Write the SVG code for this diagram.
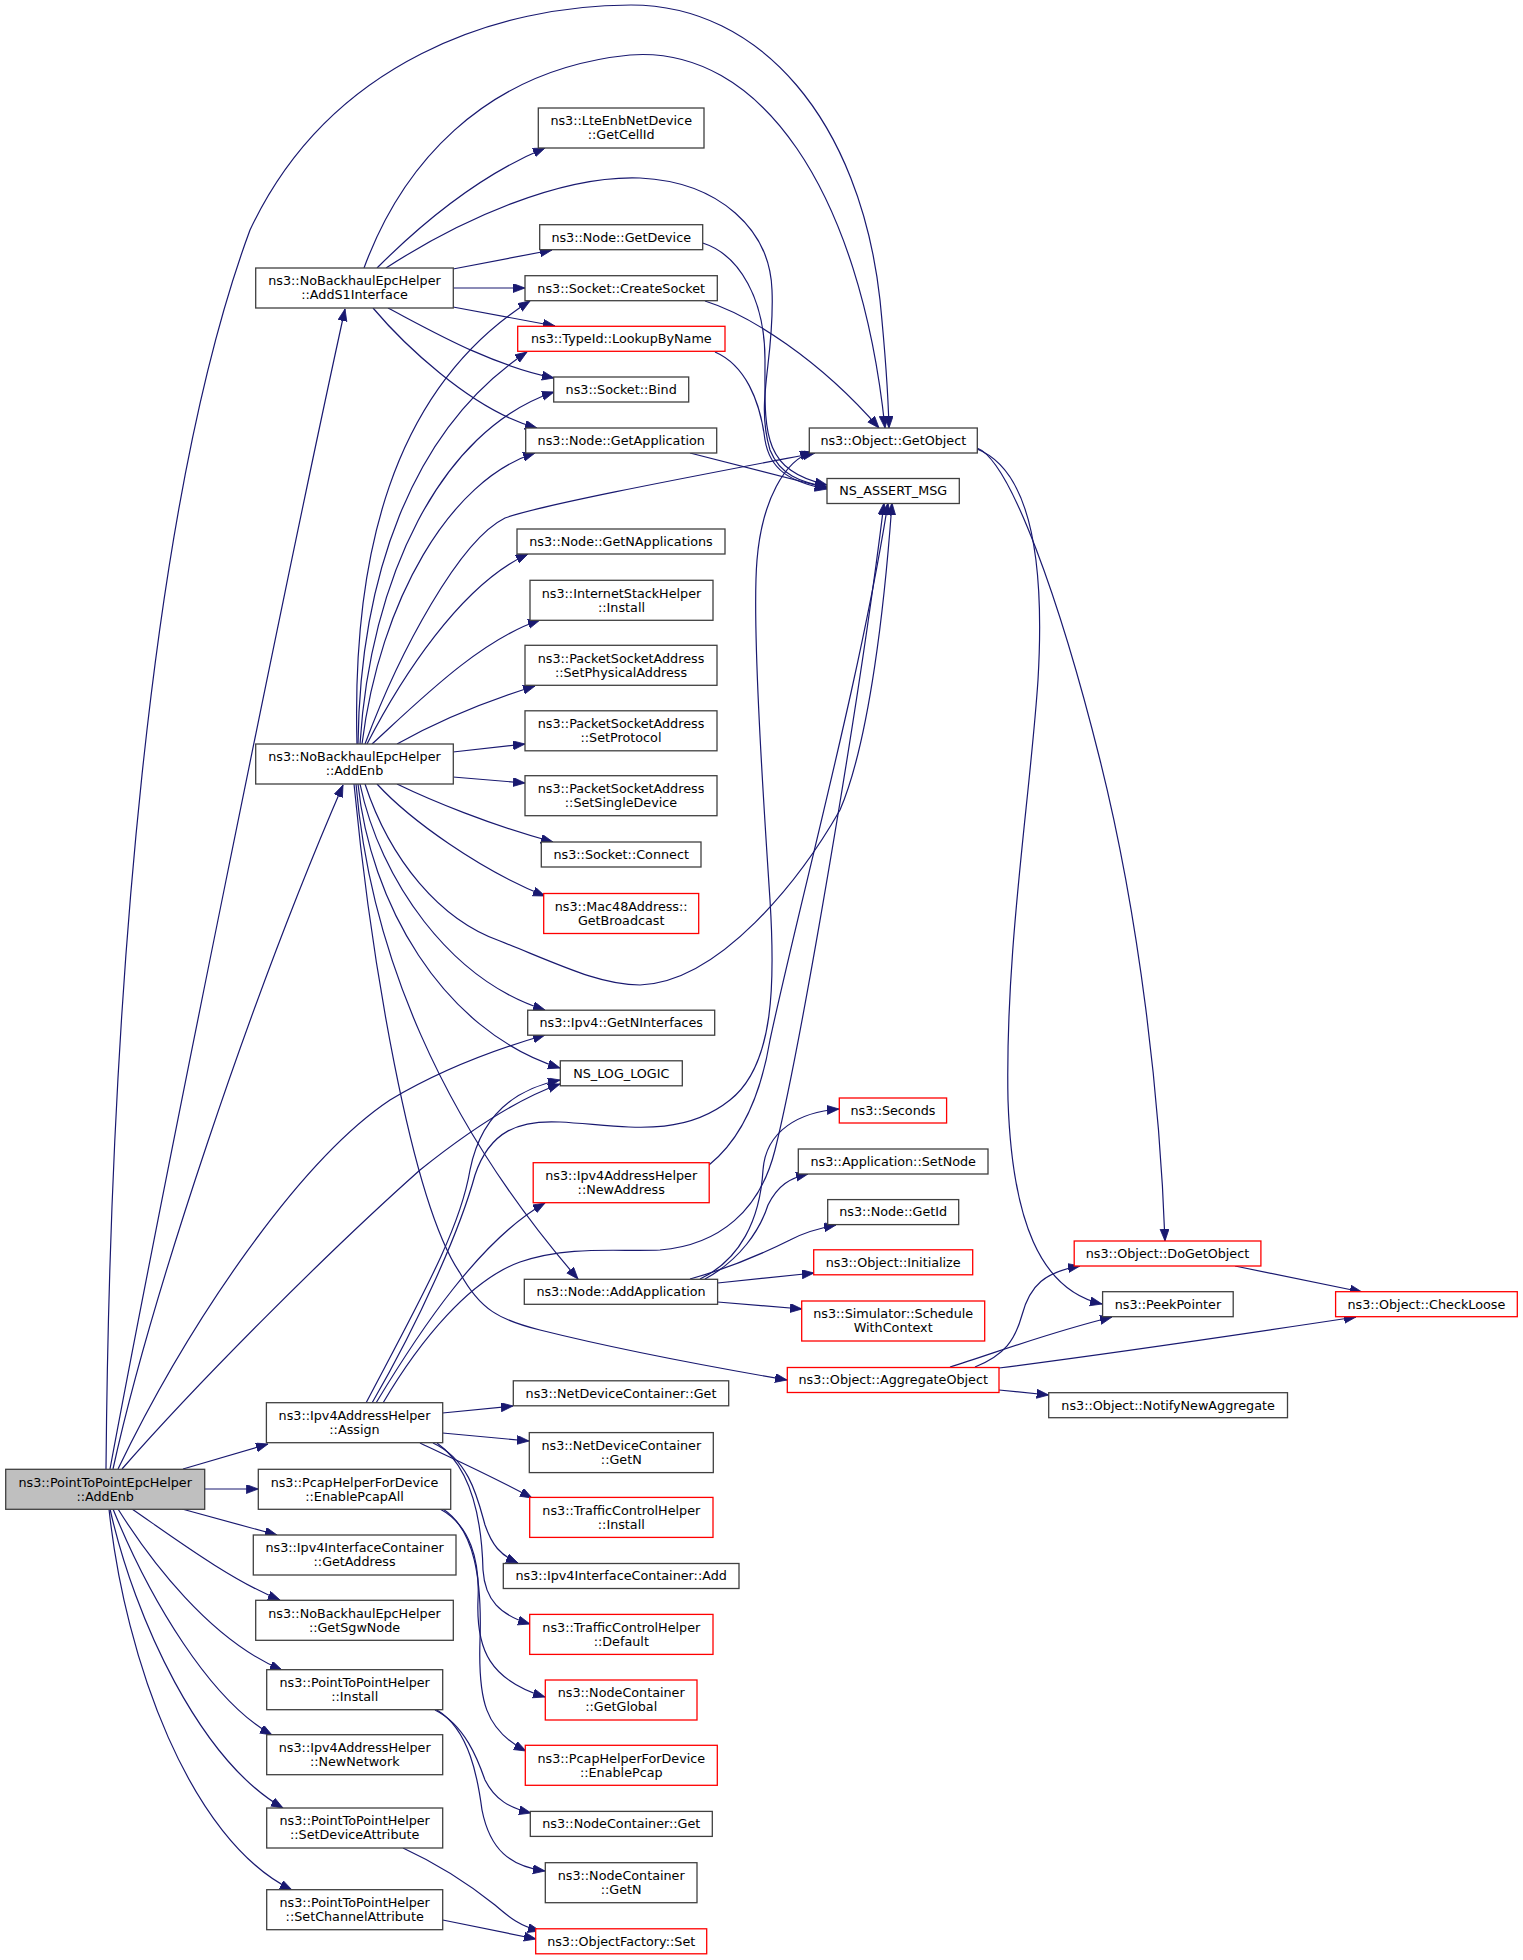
<svg xmlns="http://www.w3.org/2000/svg" width="1523" height="1960" viewBox="0 0 1523 1960">
<style>
.bg{fill:#ffffff}
.n rect{fill:#ffffff;stroke:#404040;stroke-width:1.3}
.n.r rect{stroke:#ff0000}
.n.root rect{fill:#bfbfbf}
.n text{font-family:"DejaVu Sans","Liberation Sans",sans-serif;font-size:12.75px;fill:#000000;text-anchor:middle}
.e path{fill:none;stroke:#191970;stroke-width:1.2;marker-end:url(#a)}
</style>
<defs>
<marker id="a" markerUnits="userSpaceOnUse" markerWidth="14" markerHeight="10" refX="12" refY="4.5" orient="auto">
<path d="M0,0 L12,4.5 L0,9 z" fill="#191970" stroke="#191970" stroke-width="0.8"/>
</marker>
</defs>
<rect class="bg" x="0" y="0" width="1523" height="1960"/>
<g id="edges" class="e">
<!-- root -->
<path d="M106,1469 C110,1000 150,500 250,230 C330,60 500,5 631,5 C760,5 860,120 880,300 C885,350 888,390 889,428"/>
<path d="M110,1469 C160,1200 290,560 345,309"/>
<path d="M113,1469 C150,1300 250,1000 343,785"/>
<path d="M118,1469 C190,1320 300,1160 390,1100 C440,1070 500,1048 545,1035"/>
<path d="M122,1469 C200,1380 330,1250 420,1170 C470,1130 520,1098 560,1084"/>
<path d="M183,1469 L268,1444"/>
<path d="M204.7,1489 L258.3,1489"/>
<path d="M182,1509 L277,1535"/>
<path d="M132,1509 C170,1535 230,1580 280,1600"/>
<path d="M118,1509 C150,1560 210,1640 282,1670"/>
<path d="M113,1509 C150,1600 210,1700 272,1735"/>
<path d="M110,1509 C135,1620 200,1760 283,1808"/>
<path d="M109,1509 C125,1660 190,1840 292,1890"/>
<!-- AddS1Interface -->
<path d="M364,268 C400,170 480,70 630,55 C760,45 860,190 885,428"/>
<path d="M377,268 C420,225 480,175 545,148"/>
<path d="M386,268 C460,220 560,175 640,178 C720,182 770,230 772,290 C775,360 755,400 770,450 C780,475 800,482 827,487"/>
<path d="M453,269 L552,250"/>
<path d="M453.3,288 L525,288"/>
<path d="M453,307 L555,326"/>
<path d="M388,308 C430,330 490,365 554,378"/>
<path d="M373,308 C400,340 470,410 537,428"/>
<!-- AddEnb -->
<path d="M357,744 C352,560 390,390 530,301"/>
<path d="M358,744 C360,580 410,430 527,352"/>
<path d="M360,744 C370,580 440,430 554,392"/>
<path d="M362,744 C380,600 450,480 535,453"/>
<path d="M365,744 C400,650 460,540 505,518 C540,505 700,475 815,453"/>
<path d="M367,744 C400,680 460,585 528,554"/>
<path d="M372,744 C420,700 480,640 540,620"/>
<path d="M397,744 C440,720 490,700 535,686"/>
<path d="M453,752 L525,744"/>
<path d="M453,777 L525,783"/>
<path d="M397,784 C430,800 490,825 553,842"/>
<path d="M377,784 C410,820 480,870 545,896"/>
<path d="M365,784 C390,860 440,920 500,941 C560,965 600,985 640,985 C720,982 800,880 840,810 C870,740 885,600 892,503"/>
<path d="M360,784 C380,880 450,980 545,1010"/>
<path d="M358,784 C370,900 440,1030 560,1068"/>
<path d="M356,784 C370,950 440,1120 578,1279"/>
<path d="M354,784 C370,950 410,1200 460,1273 C480,1310 500,1320 540,1330 C620,1350 700,1365 787,1380"/>
<!-- Assign -->
<path d="M366,1403 C420,1300 460,1230 470,1170 C480,1120 510,1090 560,1080"/>
<path d="M372,1403 C420,1320 460,1230 475,1175 C490,1130 520,1120 560,1122 C620,1125 680,1140 730,1100 C775,1065 775,980 770,900 C762,780 752,620 757,560 C762,500 785,460 812,452"/>
<path d="M376,1403 C420,1330 480,1240 545,1203"/>
<path d="M383,1403 C420,1340 470,1280 520,1262 C570,1245 620,1252 660,1250 C720,1245 760,1210 775,1150 C800,1050 860,700 884,503"/>
<path d="M442.5,1413 L513,1406"/>
<path d="M442.5,1433 L529,1441"/>
<path d="M420,1443 C445,1455 490,1475 532,1498"/>
<path d="M433,1443 C470,1460 478,1500 485,1525 C492,1545 500,1555 518,1563"/>
<path d="M437,1443 C475,1470 482,1530 483,1570 C485,1600 500,1615 530,1624"/>
<!-- NewAddress -->
<path d="M709,1165 C740,1140 760,1100 770,1040 C800,900 860,680 888,503"/>
<!-- EnablePcapAll -->
<path d="M440,1509 C470,1525 480,1560 478,1600 C476,1650 490,1680 545,1697"/>
<path d="M443,1509 C475,1530 482,1580 480,1640 C478,1700 485,1730 526,1751"/>
<!-- P2P Install -->
<path d="M435,1710 C465,1725 478,1760 485,1780 C495,1800 510,1808 531,1813"/>
<path d="M437,1710 C470,1730 478,1780 482,1810 C490,1850 510,1866 545,1871"/>
<!-- Set*Attribute -->
<path d="M403,1848 C440,1865 470,1885 495,1905 C510,1918 520,1926 540,1931"/>
<path d="M442.7,1920 L536,1939"/>
<!-- AddApplication -->
<path d="M700,1279 C740,1260 760,1220 763,1170 C766,1130 800,1112 839,1109"/>
<path d="M705,1279 C740,1260 760,1230 768,1205 C778,1185 790,1178 808,1174"/>
<path d="M690,1279 C730,1268 760,1255 790,1240 C805,1232 820,1228 836,1225"/>
<path d="M717.6,1283 L814,1273"/>
<path d="M717.6,1302 L802,1309"/>
<!-- AggregateObject -->
<path d="M975,1367 C1005,1355 1015,1340 1022,1315 C1030,1285 1045,1272 1080,1266"/>
<path d="M950,1367 C990,1355 1040,1335 1112,1317"/>
<path d="M999,1368 C1100,1355 1250,1333 1356,1317"/>
<path d="M999,1390 L1048.7,1395"/>
<!-- DoGetObject -->
<path d="M1235,1266 L1362,1292"/>
<!-- GetObject -->
<path d="M977,448 C1010,460 1060,600 1100,760 C1140,920 1160,1100 1165,1241"/>
<path d="M977,449 C1030,470 1045,560 1038,680 C1030,800 1005,950 1008,1100 C1012,1220 1040,1290 1102,1304"/>
<!-- misc -->
<path d="M705,301 C750,315 820,360 879,428"/>
<path d="M702.7,243 C740,255 765,300 765,360 C765,430 760,470 827,485"/>
<path d="M715,352 C745,365 760,400 765,440 C770,470 790,482 827,489"/>
<path d="M690,453 L827,488"/>
</g>
<g id="n_root" class="n root"><rect x="5.7" y="1469.3" width="199" height="40"/><text x="105.2" y="1486.5">ns3::PointToPointEpcHelper</text><text x="105.2" y="1500.5">::AddEnb</text></g>
<g id="n_adds1" class="n"><rect x="255.7" y="268" width="197.6" height="40"/><text x="354.5" y="285.2">ns3::NoBackhaulEpcHelper</text><text x="354.5" y="299.2">::AddS1Interface</text></g>
<g id="n_addenb" class="n"><rect x="255.7" y="744" width="197.6" height="40"/><text x="354.5" y="761.2">ns3::NoBackhaulEpcHelper</text><text x="354.5" y="775.2">::AddEnb</text></g>
<g id="n_assign" class="n"><rect x="266.4" y="1402.7" width="176.3" height="40"/><text x="354.5" y="1419.9">ns3::Ipv4AddressHelper</text><text x="354.5" y="1433.9">::Assign</text></g>
<g id="n_pcapall" class="n"><rect x="258.3" y="1469.3" width="192.4" height="40"/><text x="354.5" y="1486.5">ns3::PcapHelperForDevice</text><text x="354.5" y="1500.5">::EnablePcapAll</text></g>
<g id="n_getaddr" class="n"><rect x="253.3" y="1535" width="202.7" height="40"/><text x="354.6" y="1552.2">ns3::Ipv4InterfaceContainer</text><text x="354.6" y="1566.2">::GetAddress</text></g>
<g id="n_sgw" class="n"><rect x="255.7" y="1600.3" width="197.6" height="40"/><text x="354.5" y="1617.5">ns3::NoBackhaulEpcHelper</text><text x="354.5" y="1631.5">::GetSgwNode</text></g>
<g id="n_p2pinst" class="n"><rect x="266.7" y="1669.7" width="176" height="40"/><text x="354.7" y="1686.9">ns3::PointToPointHelper</text><text x="354.7" y="1700.9">::Install</text></g>
<g id="n_newnet" class="n"><rect x="266.7" y="1734.7" width="176" height="40"/><text x="354.7" y="1751.9">ns3::Ipv4AddressHelper</text><text x="354.7" y="1765.9">::NewNetwork</text></g>
<g id="n_setdev" class="n"><rect x="266.7" y="1808" width="176" height="40"/><text x="354.7" y="1825.2">ns3::PointToPointHelper</text><text x="354.7" y="1839.2">::SetDeviceAttribute</text></g>
<g id="n_setch" class="n"><rect x="266.7" y="1889.7" width="176" height="40"/><text x="354.7" y="1906.9">ns3::PointToPointHelper</text><text x="354.7" y="1920.9">::SetChannelAttribute</text></g>
<g id="n_cellid" class="n"><rect x="538.3" y="108" width="165.7" height="40"/><text x="621.2" y="125.2">ns3::LteEnbNetDevice</text><text x="621.2" y="139.2">::GetCellId</text></g>
<g id="n_getdev" class="n"><rect x="539.7" y="224.7" width="163" height="25"/><text x="621.2" y="241.5">ns3::Node::GetDevice</text></g>
<g id="n_create" class="n"><rect x="525" y="275.7" width="192.3" height="25"/><text x="621.2" y="292.5">ns3::Socket::CreateSocket</text></g>
<g id="n_lookup" class="n r"><rect x="517.7" y="326.3" width="207.3" height="25"/><text x="621.3" y="343.1">ns3::TypeId::LookupByName</text></g>
<g id="n_bind" class="n"><rect x="553.7" y="377" width="135" height="25"/><text x="621.2" y="393.8">ns3::Socket::Bind</text></g>
<g id="n_getapp" class="n"><rect x="525.7" y="428" width="191" height="25"/><text x="621.2" y="444.8">ns3::Node::GetApplication</text></g>
<g id="n_getnapp" class="n"><rect x="517" y="529" width="208" height="25"/><text x="621" y="545.8">ns3::Node::GetNApplications</text></g>
<g id="n_inetinst" class="n"><rect x="530" y="580.3" width="183" height="40"/><text x="621.5" y="597.5">ns3::InternetStackHelper</text><text x="621.5" y="611.5">::Install</text></g>
<g id="n_setphys" class="n"><rect x="525" y="645.3" width="192" height="40"/><text x="621" y="662.5">ns3::PacketSocketAddress</text><text x="621" y="676.5">::SetPhysicalAddress</text></g>
<g id="n_setproto" class="n"><rect x="525" y="710.8" width="192" height="40"/><text x="621" y="728">ns3::PacketSocketAddress</text><text x="621" y="742">::SetProtocol</text></g>
<g id="n_setsingle" class="n"><rect x="525" y="775.7" width="192" height="40"/><text x="621" y="792.9">ns3::PacketSocketAddress</text><text x="621" y="806.9">::SetSingleDevice</text></g>
<g id="n_connect" class="n"><rect x="541.3" y="842" width="159.7" height="25"/><text x="621.2" y="858.8">ns3::Socket::Connect</text></g>
<g id="n_bcast" class="n r"><rect x="543.7" y="893.5" width="155" height="40"/><text x="621.2" y="910.7">ns3::Mac48Address::</text><text x="621.2" y="924.7">GetBroadcast</text></g>
<g id="n_getnif" class="n"><rect x="527.7" y="1010.2" width="187" height="25"/><text x="621.2" y="1027">ns3::Ipv4::GetNInterfaces</text></g>
<g id="n_log" class="n"><rect x="560.3" y="1060.8" width="122" height="25"/><text x="621.3" y="1077.6">NS_LOG_LOGIC</text></g>
<g id="n_newaddr" class="n r"><rect x="533.2" y="1162.7" width="176" height="40"/><text x="621.2" y="1179.9">ns3::Ipv4AddressHelper</text><text x="621.2" y="1193.9">::NewAddress</text></g>
<g id="n_addapp" class="n"><rect x="524.3" y="1279.3" width="193.3" height="25"/><text x="621" y="1296.1">ns3::Node::AddApplication</text></g>
<g id="n_ndcget" class="n"><rect x="513.3" y="1380.8" width="215.4" height="25"/><text x="621" y="1397.6">ns3::NetDeviceContainer::Get</text></g>
<g id="n_ndcgetn" class="n"><rect x="529.3" y="1432.6" width="184" height="40"/><text x="621.3" y="1449.8">ns3::NetDeviceContainer</text><text x="621.3" y="1463.8">::GetN</text></g>
<g id="n_tcinst" class="n r"><rect x="529.7" y="1497.4" width="183.3" height="40"/><text x="621.3" y="1514.6">ns3::TrafficControlHelper</text><text x="621.3" y="1528.6">::Install</text></g>
<g id="n_ifadd" class="n"><rect x="503.3" y="1563.5" width="235.7" height="25"/><text x="621.2" y="1580.3">ns3::Ipv4InterfaceContainer::Add</text></g>
<g id="n_tcdef" class="n r"><rect x="529.7" y="1614.4" width="183.3" height="40"/><text x="621.3" y="1631.6">ns3::TrafficControlHelper</text><text x="621.3" y="1645.6">::Default</text></g>
<g id="n_global" class="n r"><rect x="545.3" y="1680" width="151.7" height="40"/><text x="621.2" y="1697.2">ns3::NodeContainer</text><text x="621.2" y="1711.2">::GetGlobal</text></g>
<g id="n_pcap" class="n r"><rect x="525.3" y="1745.3" width="192" height="40"/><text x="621.3" y="1762.5">ns3::PcapHelperForDevice</text><text x="621.3" y="1776.5">::EnablePcap</text></g>
<g id="n_ncget" class="n"><rect x="530.3" y="1811.4" width="182" height="25"/><text x="621.3" y="1828.2">ns3::NodeContainer::Get</text></g>
<g id="n_ncgetn" class="n"><rect x="545.3" y="1862.7" width="151.7" height="40"/><text x="621.2" y="1879.9">ns3::NodeContainer</text><text x="621.2" y="1893.9">::GetN</text></g>
<g id="n_ofset" class="n r"><rect x="535.7" y="1928.8" width="171" height="25"/><text x="621.2" y="1945.6">ns3::ObjectFactory::Set</text></g>
<g id="n_getobj" class="n"><rect x="809.3" y="428" width="168" height="25"/><text x="893.3" y="444.8">ns3::Object::GetObject</text></g>
<g id="n_assert" class="n"><rect x="827" y="478.5" width="132.3" height="25"/><text x="893.2" y="495.3">NS_ASSERT_MSG</text></g>
<g id="n_seconds" class="n r"><rect x="839.3" y="1098" width="107.3" height="25"/><text x="893" y="1114.8">ns3::Seconds</text></g>
<g id="n_setnode" class="n"><rect x="798.3" y="1149" width="189.7" height="25"/><text x="893.2" y="1165.8">ns3::Application::SetNode</text></g>
<g id="n_getid" class="n"><rect x="827.7" y="1199.6" width="131" height="25"/><text x="893.2" y="1216.4">ns3::Node::GetId</text></g>
<g id="n_init" class="n r"><rect x="813.7" y="1249.8" width="159" height="25"/><text x="893.2" y="1266.6">ns3::Object::Initialize</text></g>
<g id="n_sched" class="n r"><rect x="801.7" y="1301" width="183" height="40"/><text x="893.2" y="1318.2">ns3::Simulator::Schedule</text><text x="893.2" y="1332.2">WithContext</text></g>
<g id="n_aggr" class="n r"><rect x="787.3" y="1367.5" width="211.7" height="25"/><text x="893.2" y="1384.3">ns3::Object::AggregateObject</text></g>
<g id="n_dogetobj" class="n r"><rect x="1074.2" y="1241" width="186.7" height="25"/><text x="1167.5" y="1257.8">ns3::Object::DoGetObject</text></g>
<g id="n_peek" class="n"><rect x="1102.6" y="1291.7" width="130.6" height="25"/><text x="1167.9" y="1308.5">ns3::PeekPointer</text></g>
<g id="n_check" class="n r"><rect x="1335.6" y="1291.7" width="181.7" height="25"/><text x="1426.4" y="1308.5">ns3::Object::CheckLoose</text></g>
<g id="n_notify" class="n"><rect x="1048.7" y="1392.7" width="238.8" height="25"/><text x="1168.1" y="1409.5">ns3::Object::NotifyNewAggregate</text></g>
</svg>
